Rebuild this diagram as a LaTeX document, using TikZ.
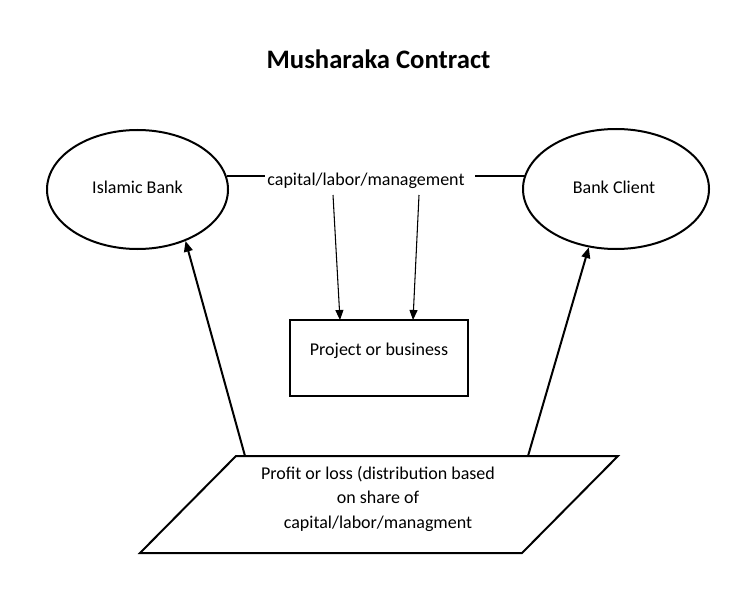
\documentclass[tikz,border=0pt]{standalone}
\usepackage{fontspec}
\setmainfont{Carlito}
\usetikzlibrary{shapes.geometric,arrows.meta}
\tikzset{
  oval/.style={draw, line width=1.5pt, ellipse, inner sep=0pt},
  boxnode/.style={draw, line width=1.5pt, rectangle, inner sep=0pt},
  txt/.style={font=\fontsize{13.5pt}{18.4pt}\selectfont, inner sep=0pt, align=center},
  thinarrow/.style={line width=0.8pt, -{Triangle[length=7.5pt,width=6pt]}},
  thickarrow/.style={line width=1.5pt, -{Triangle[length=8pt,width=6.5pt]}},
  thinline/.style={line width=0.8pt}
}
\begin{document}
\begin{tikzpicture}[x=0.75pt,y=-0.75pt]
\useasboundingbox (0,0) rectangle (755,613);
% title
\node[font=\fontsize{20pt}{24pt}\selectfont\bfseries, inner sep=0pt, anchor=base] (title) at (378.5,69) {Musharaka Contract};
% ellipses
\node[oval, minimum width=135.75pt, minimum height=89.25pt] (lb) at (137.5,189.5) {};
\node[txt, anchor=base] (lbt) at (137.5,193) {Islamic Bank};
\node[oval, minimum width=139.5pt, minimum height=90pt] (rb) at (616,189) {};
\node[txt, anchor=base] (rbt) at (614,193) {Bank Client};
% middle label
\node[txt, anchor=base] (cap) at (366,185) {capital/labor/management};
\coordinate (capL) at (265,176);
\coordinate (capR) at (475,176);
\draw[thinline] (lb.8.7 |- capL) -- (capL);
\draw[thinline] (capR) -- (rb.171.9 |- capR);
% project box
\node[boxnode, minimum width=133.5pt, minimum height=57pt] (proj) at (379,358) {};
\node[txt, anchor=base] (projt) at (379,355) {Project or business};
\coordinate (a1s) at (333,195);
\coordinate (a1e) at (340,320);
\coordinate (a2s) at (419,195);
\coordinate (a2e) at (413,320);
\draw[thinarrow] (a1s) -- (a1e);
\draw[thinarrow] (a2s) -- (a2e);
% parallelogram
\draw[line width=1.5pt, line join=miter] (236,456) -- (618,456) -- (522,553) -- (140,553) -- cycle;
\node[txt, anchor=base] (pl1) at (378,479) {Profit or loss (distribution based};
\node[txt, anchor=base] (pl2) at (378,503.5) {on share of};
\node[txt, anchor=base] (pl3) at (378,528) {capital/labor/managment};
\coordinate (pA) at (245,456);
\coordinate (pB) at (528,456);
\draw[thickarrow] (pA) -- (lb.-47.8);
\draw[thickarrow] (pB) -- (rb.-115.4);
\end{tikzpicture}
\end{document}
